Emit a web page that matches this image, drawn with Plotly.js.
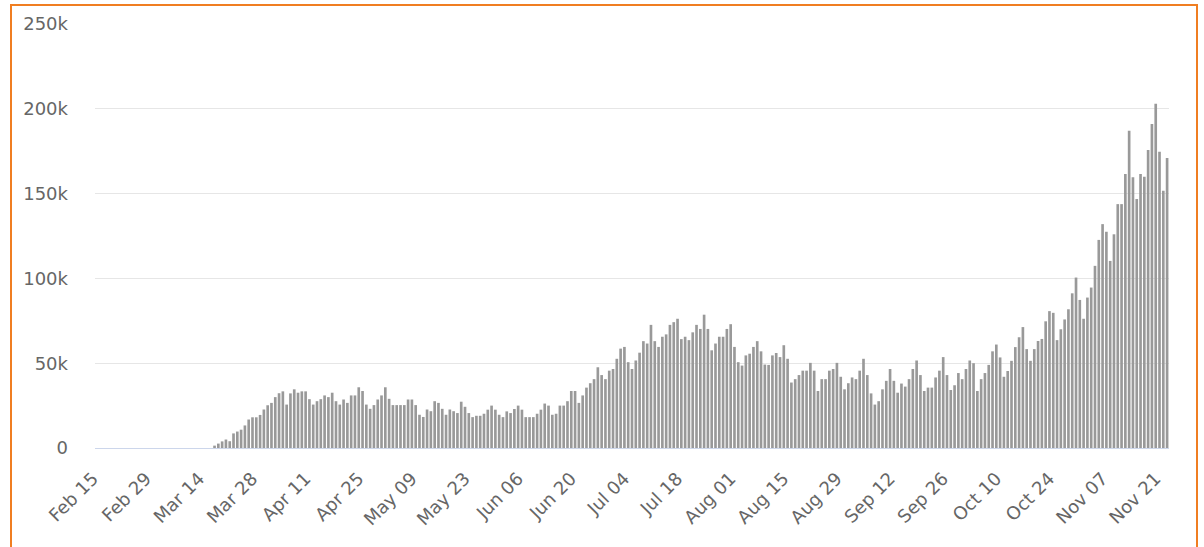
<!DOCTYPE html>
<html>
<head>
<meta charset="utf-8">
<script src="https://cdn.plot.ly/plotly-3.0.1.min.js"></script>
<style>
  html, body { margin: 0; padding: 0; background: #fff; overflow: hidden; }
  #chart { position: absolute; left: 0; top: 0; width: 1204px; height: 547px; }
  #frame { position: absolute; left: 10px; top: 4px; width: 1188px; height: 700px;
           border: 2px solid #f07e21; box-sizing: border-box; pointer-events: none; }
</style>
</head>
<body>
<div id="chart"></div>
<div id="frame"></div>
<script>
// Daily new cases (thousands), by month
const startDate = '2020-02-15';
const febCases = [0,0,0,0,0,0,0,0,0,0,0,0,0,0,0];               // Feb 15 - Feb 29
const marCases = [0,0,0,0,0,0,0,0,0,0,0,0,0,0,0,0,               // Mar 1 - Mar 16
                  1.4,2.6,3.9,5.0,4.0,8.6,9.7,10.8,13.3,16.8,18.1,18.1,19.5,22.7,25.2];
const aprCases = [26.6,30.0,32.3,33.4,25.6,32.2,34.6,32.6,33.4,33.4,
                  28.8,25.6,27.6,28.8,31.0,30.0,32.6,27.6,25.6,28.6,
                  26.6,31.0,31.0,35.8,33.6,25.6,23.1,25.3,28.6,31.0];
const mayCases = [35.8,29.0,25.3,25.3,25.3,25.3,28.6,28.6,25.3,19.6,
                  18.3,22.7,21.7,27.6,26.6,23.1,19.6,22.7,21.7,20.6,
                  27.3,24.3,20.6,18.2,19.0,19.0,20.2,22.6,25.0,22.6,19.6];
const junCases = [18.2,21.6,20.6,23.0,25.0,22.6,18.2,18.2,18.2,20.2,
                  22.6,26.2,25.0,19.6,20.2,25.0,25.0,27.6,33.6,33.6,
                  26.6,31.0,35.6,38.2,40.6,47.6,43.0,40.6,45.6,46.6];
const julCases = [52.6,58.6,59.6,50.6,46.6,51.6,56.2,63.0,61.6,72.6,
                  63.0,59.6,65.6,67.0,72.6,74.2,76.2,64.2,65.6,63.6,
                  68.2,72.6,70.2,78.6,70.2,57.6,61.6,65.6,65.6,70.2,73.0];
const augCases = [59.6,50.6,48.6,54.6,55.6,59.6,63.0,57.0,49.2,49.0,
                  54.6,56.0,53.6,60.6,52.6,38.6,40.6,43.0,45.6,45.6,
                  50.2,45.6,33.6,40.6,40.6,45.6,46.6,50.2,42.0,34.6,38.2];
const sepCases = [41.6,40.6,45.6,52.6,43.0,32.2,25.6,27.6,34.6,39.6,
                  46.6,39.6,32.6,38.0,36.2,40.6,46.6,51.6,43.0,33.6,
                  35.6,35.6,41.6,45.6,53.6,43.0,34.2,37.0,44.2,40.6];
const octCases = [46.6,51.6,50.0,33.6,40.6,44.2,49.0,57.0,61.0,53.4,
                  42.0,45.4,51.4,59.5,65.3,71.3,58.3,51.4,58.3,63.1,
                  64.3,74.7,80.7,79.7,63.6,70.0,75.8,81.8,91.2,100.5,87.3];
const novCases = [76.2,88.7,94.6,107.4,122.7,132.0,127.5,110.3,126.0,143.8,
                  143.8,161.5,187.0,159.6,146.8,161.5,160.0,175.7,191.0,203.0,
                  174.7,151.7,171.0];                              // Nov 1 - Nov 23

const yTickVals = [0, 50000, 100000, 150000, 200000, 250000];
const yTickText = ['0', '50k', '100k', '150k', '200k', '250k'];

const casesK = [].concat(febCases, marCases, aprCases, mayCases, junCases,
                         julCases, augCases, sepCases, octCases, novCases);
const cases = casesK.map(v => Math.round(v * 1000));
const dates = [];
{
  const d0 = new Date(startDate + 'T00:00:00Z');
  for (let i = 0; i < cases.length; i++) {
    const d = new Date(d0.getTime() + i * 86400000);
    dates.push(d.toISOString().slice(0, 10));
  }
}

const font = { family: 'DejaVu Sans, sans-serif', size: 18, color: '#666666' };

Plotly.newPlot('chart', [{
  type: 'bar',
  x: dates,
  y: cases,
  marker: { color: '#999999', line: { width: 0 } },
  hoverinfo: 'x+y'
}], {
  width: 1204, height: 547, autosize: false,
  margin: { l: 95, r: 35, t: 24, b: 99, pad: 0 },
  paper_bgcolor: '#ffffff', plot_bgcolor: '#ffffff',
  bargap: 0.3,
  showlegend: false,
  font: font,
  xaxis: {
    type: 'date',
    range: ['2020-02-14 12:00', '2020-11-23 12:00'],
    tick0: startDate, dtick: 14 * 86400000,
    tickformat: '%b %d', tickangle: -45,
    tickfont: font,
    showgrid: false, zeroline: false,
    showline: true, linecolor: '#ccd6eb', linewidth: 1,
    ticks: '', ticklabelstandoff: 12, ticklabelshift: -4
  },
  yaxis: {
    range: [0, 250000],
    tickvals: yTickVals, ticktext: yTickText,
    tickfont: font,
    gridcolor: '#e6e6e6', gridwidth: 1,
    zeroline: false, showline: false,
    ticks: '', ticklabelstandoff: 26
  }
}, { displayModeBar: false, staticPlot: true });
</script>
</body>
</html>
